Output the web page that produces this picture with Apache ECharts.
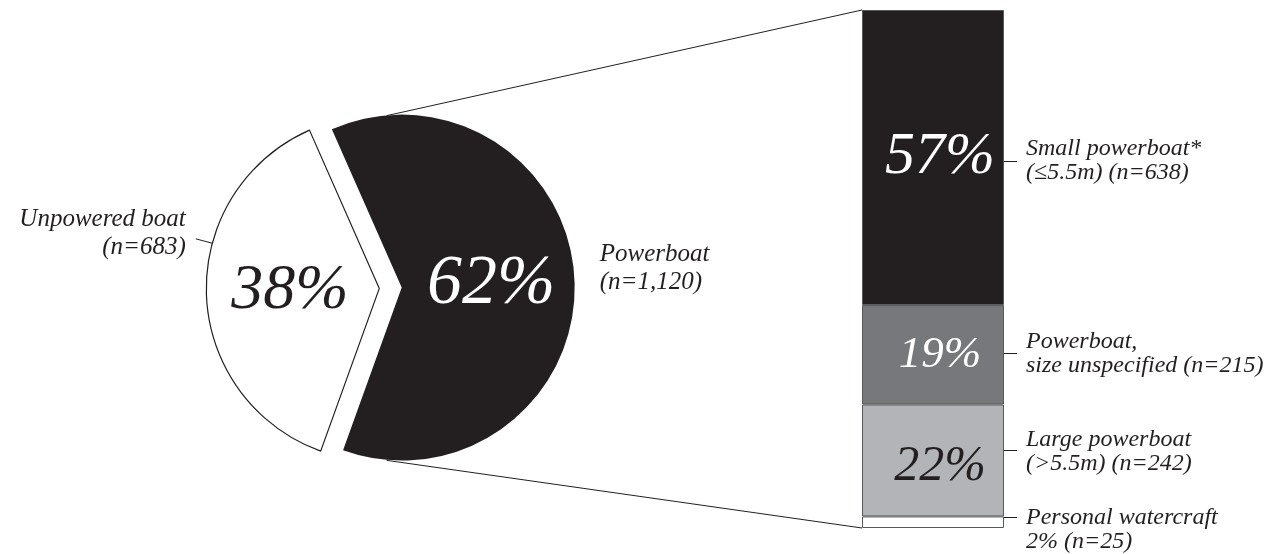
<!DOCTYPE html>
<html><head><meta charset="utf-8">
<script src="https://cdn.jsdelivr.net/npm/echarts@6/dist/echarts.min.js"></script>
<style>html,body{margin:0;padding:0;background:#fff}#c{width:1267px;height:554px}</style>
</head><body><div id="c"></div>
<script>
// ---- data ----
const pieNames = ['Unpowered boat', 'Powerboat'];
const pieCounts = [683, 1120];
const pieOuterLabels = ['Unpowered boat\n(n=683)', 'Powerboat\n(n=1,120)'];

const barNames = ['Small powerboat* (≤5.5m)', 'Powerboat, size unspecified', 'Large powerboat (>5.5m)', 'Personal watercraft'];
const barCounts = [638, 215, 242, 25];
const barSideLabels = ['Small powerboat*\n(≤5.5m) (n=638)', 'Powerboat,\nsize unspecified (n=215)', 'Large powerboat\n(>5.5m) (n=242)', 'Personal watercraft\n2% (n=25)'];

// ---- styles / layout ----
const FONT = 'Liberation Serif';
const INK = '#231f20';
const PIE_CX = 390.5, PIE_CY = 288, PIE_R = 173, PIE_OFF = 11.2, PIE_ROT = 2;
const pieFill = ['#ffffff', INK];
const pieBorder = [INK, INK];
const pieBorderW = [1.2, 0];
const pieTextColor = [INK, '#ffffff'];
const pieTextSize = [64, 70];
const LEADER_ANGLE = 165, LEADER_LEN = 17;

const GRID = {left: 862, right: 263, top: 10, bottom: 26};
const barFill = [INK, '#77787b', '#b3b4b7', '#ffffff'];
const barTextColor = ['#ffffff', '#ffffff', INK, INK];
const barTextSize = [60, 45, 50, 0];
const barTextDy = [0, 0, 6, 0];
const sideLabelDy = [3.5, -1.5, -9, 7];
const tickDy = [3.5, -1.5, -10, -5];

const pieTotal = pieCounts.reduce((a, b) => a + b, 0);
const barTotal = barCounts.reduce((a, b) => a + b, 0);
const startAngle = 180 + 180 * pieCounts[0] / pieTotal + PIE_ROT;

const chart = echarts.init(document.getElementById('c'), null, {renderer: 'canvas'});

// bar series (stack from bottom up => reverse order)
const order = barCounts.map((_, i) => i).reverse();
const barSeries = [];
order.forEach(i => {
  barSeries.push({
    type: 'bar', name: barNames[i], stack: 'vis', barWidth: '100%', barGap: '-100%',
    silent: true, animation: false,
    data: [barCounts[i]],
    itemStyle: {color: barFill[i], borderColor: '#58595b', borderWidth: 1},
    label: {
      show: barTextSize[i] > 0, position: 'inside', offset: [7, barTextDy[i]],
      formatter: () => Math.round(barCounts[i] / barTotal * 100) + '%',
      fontFamily: FONT, fontStyle: 'italic', fontSize: barTextSize[i] || 12, color: barTextColor[i]
    }
  });
});
order.forEach(i => {
  barSeries.push({
    type: 'bar', name: barNames[i] + ' label', stack: 'lab', barWidth: '100%', barGap: '-100%',
    silent: true, animation: false,
    data: [barCounts[i]],
    itemStyle: {color: 'rgba(0,0,0,0)'},
    label: {
      show: true, position: 'right', distance: 22, offset: [0, sideLabelDy[i]],
      formatter: () => barSideLabels[i],
      fontFamily: FONT, fontStyle: 'italic', fontSize: 24, lineHeight: 24, color: INK, align: 'left'
    }
  });
});

// tick midpoints (cumulative from bottom)
const mids = [];
{
  let acc = 0;
  order.forEach(i => { mids[i] = acc + barCounts[i] / 2; acc += barCounts[i]; });
}

const option = {
  backgroundColor: '#ffffff',
  animation: false,
  grid: GRID,
  xAxis: {type: 'category', data: [''], show: false},
  yAxis: {type: 'value', min: 0, max: barTotal, show: false},
  series: [
    {
      type: 'pie', center: [PIE_CX, PIE_CY], radius: PIE_R, startAngle: startAngle, clockwise: true,
      selectedMode: 'multiple', selectedOffset: PIE_OFF, avoidLabelOverlap: false,
      emphasis: {disabled: true}, animation: false, z: 2,
      data: pieNames.map((n, i) => ({
        name: n, value: pieCounts[i], selected: true,
        itemStyle: {color: pieFill[i], borderColor: pieBorder[i], borderWidth: pieBorderW[i]},
        select: {itemStyle: {color: pieFill[i], borderColor: pieBorder[i], borderWidth: pieBorderW[i]}},
        label: {color: pieTextColor[i], fontSize: pieTextSize[i]}
      })),
      label: {
        show: true, position: 'inside',
        formatter: p => Math.round(p.value / pieTotal * 100) + '%',
        fontFamily: FONT, fontStyle: 'italic'
      },
      labelLine: {show: false}
    },
    {
      type: 'pie', center: [PIE_CX, PIE_CY], radius: PIE_R, startAngle: startAngle, clockwise: true,
      silent: true, animation: false, z: 1, avoidLabelOverlap: false,
      itemStyle: {color: 'rgba(0,0,0,0)', borderWidth: 0},
      data: pieNames.map((n, i) => ({
        name: n, value: pieCounts[i],
        labelLine: {show: i === 0}
      })),
      label: {
        show: true, position: 'outside',
        formatter: p => pieOuterLabels[p.dataIndex],
        fontFamily: FONT, fontStyle: 'italic', fontSize: 25, lineHeight: 28, color: INK
      },
      labelLine: {show: true, length: LEADER_LEN, length2: 0, lineStyle: {color: INK, width: 1}},
      labelLayout: function (p) {
        if (p.dataIndex === 0) {
          const cx = PIE_CX - PIE_OFF, a = LEADER_ANGLE * Math.PI / 180;
          const x1 = cx + PIE_R * Math.cos(a), y1 = PIE_CY - PIE_R * Math.sin(a);
          const x2 = cx + (PIE_R + LEADER_LEN) * Math.cos(a), y2 = PIE_CY - (PIE_R + LEADER_LEN) * Math.sin(a);
          return {x: x2 - 10, y: y2 - 5, align: 'right', verticalAlign: 'middle',
                  labelLinePoints: [[x1, y1], [x2, y2], [x2, y2]]};
        }
        return {x: PIE_CX + PIE_OFF + PIE_R + 25, y: PIE_CY - 20, align: 'left', verticalAlign: 'middle'};
      }
    },
    ...barSeries,
    {
      type: 'custom', silent: true, animation: false, z: 5,
      data: barCounts.map((_, i) => [0, mids[i], i]),
      renderItem: function (params, api) {
        const p = api.coord([api.value(0), api.value(1)]);
        const w = api.size([1, 0])[0];
        const x0 = p[0] + w / 2;
        const y = Math.round(p[1] + tickDy[api.value(2)]) + 0.5;
        return {type: 'line', shape: {x1: x0, y1: y, x2: x0 + 13, y2: y},
                style: {stroke: INK, lineWidth: 1}};
      }
    }
  ]
};
chart.setOption(option);

// connector lines from pie to bar (computed from scales / pie geometry)
const barTopPx = chart.convertToPixel({gridIndex: 0}, [0, barTotal]);
const barBotPx = chart.convertToPixel({gridIndex: 0}, [0, 0]);
const connA = 95 * Math.PI / 180;
const connX = PIE_CX + PIE_OFF + PIE_R * Math.cos(connA);
const connYTop = PIE_CY - PIE_R * Math.sin(connA);
const connYBot = PIE_CY + PIE_R * Math.sin(connA);
chart.setOption({
  graphic: [
    {type: 'line', silent: true, z: 0, shape: {x1: connX, y1: connYTop, x2: GRID.left, y2: barTopPx[1]}, style: {stroke: INK, lineWidth: 1}},
    {type: 'line', silent: true, z: 0, shape: {x1: connX, y1: connYBot, x2: GRID.left, y2: barBotPx[1]}, style: {stroke: INK, lineWidth: 1}}
  ]
});
</script>
</body></html>
